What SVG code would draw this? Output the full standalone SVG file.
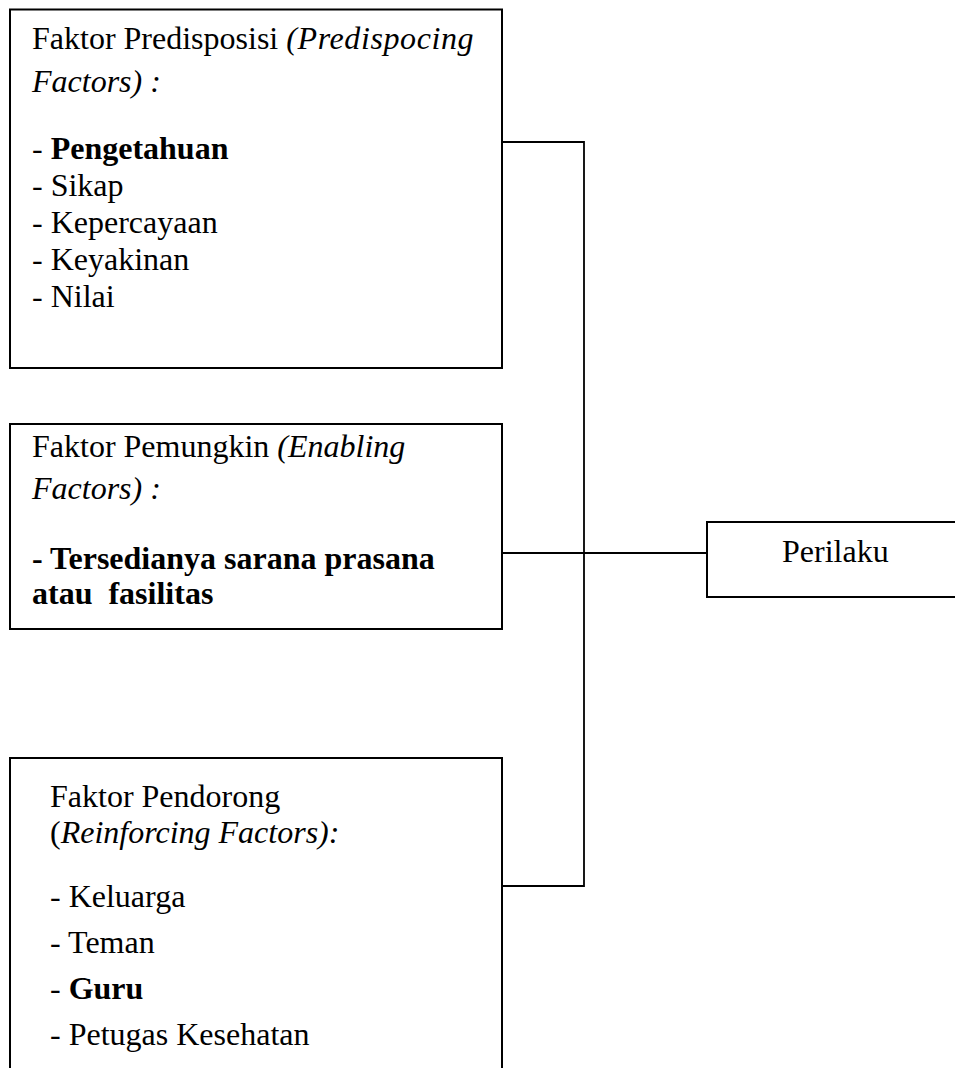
<svg xmlns="http://www.w3.org/2000/svg" width="955" height="1068" viewBox="0 0 955 1068">
<style>
  .box { fill: #ffffff; stroke: #000000; stroke-width: 2; }
  .conn { fill: none; stroke: #000000; stroke-width: 1.8; }
  text { font-family: "Liberation Serif", "Times New Roman", serif; font-size: 32px; fill: #000000; white-space: pre; }
  .i { font-style: italic; }
  .b { font-weight: bold; }
</style>
<rect width="955" height="1068" fill="#ffffff"/>
<g id="connectors">
  <path class="conn" d="M502 142 H584 V886 H502"/>
  <path class="conn" d="M502 553 H707"/>
</g>
<g id="node-predisposisi">
  <rect class="box" x="10" y="9.5" width="492" height="358.5"/>
  <text x="32" y="49">Faktor Predisposisi <tspan class="i" letter-spacing="0.6">(Predispocing</tspan></text>
  <text x="32" y="92" class="i">Factors) :</text>
  <text x="32" y="159">- <tspan class="b">Pengetahuan</tspan></text>
  <text x="32" y="196">- Sikap</text>
  <text x="32" y="233">- Kepercayaan</text>
  <text x="32" y="270">- Keyakinan</text>
  <text x="32" y="307">- Nilai</text>
</g>
<g id="node-pemungkin">
  <rect class="box" x="10" y="424" width="492" height="205"/>
  <text x="32" y="457">Faktor Pemungkin <tspan class="i">(Enabling</tspan></text>
  <text x="32" y="499" class="i">Factors) :</text>
  <text x="32" y="569" class="b">- Tersedianya sarana prasana</text>
  <text x="32" y="604" class="b" xml:space="preserve">atau  fasilitas</text>
</g>
<g id="node-pendorong">
  <rect class="box" x="10" y="758" width="492" height="320"/>
  <text x="50" y="807">Faktor Pendorong</text>
  <text x="50" y="843">(<tspan class="i">Reinforcing Factors):</tspan></text>
  <text x="50" y="907">- Keluarga</text>
  <text x="50" y="953">- Teman</text>
  <text x="50" y="999">- <tspan class="b">Guru</tspan></text>
  <text x="50" y="1045">- Petugas Kesehatan</text>
</g>
<g id="node-perilaku">
  <rect class="box" x="707" y="522" width="260" height="75"/>
  <text x="782" y="562">Perilaku</text>
</g>
</svg>
